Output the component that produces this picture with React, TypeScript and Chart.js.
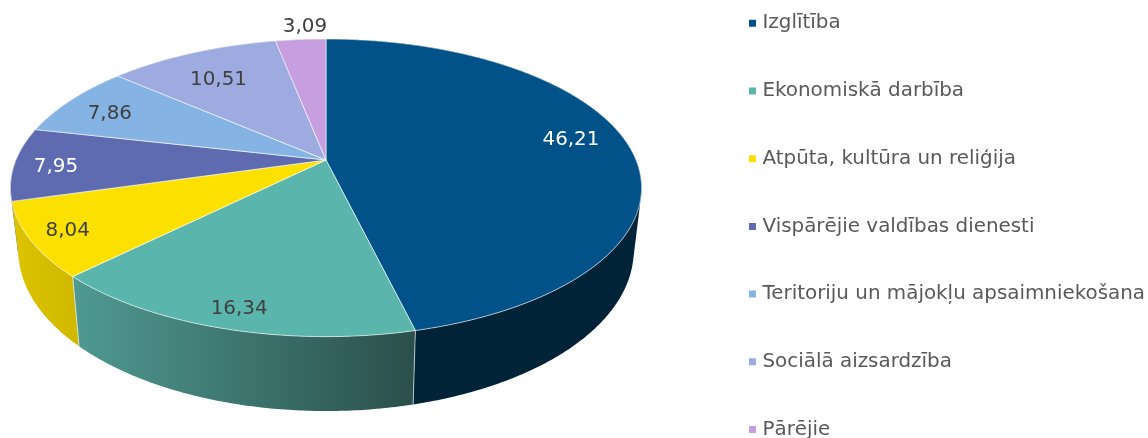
import React, { useEffect, useRef } from "react";
import { Chart, registerables } from "chart.js";

Chart.register(...registerables);

const categories = [
  "Izglītība",
  "Ekonomiskā darbība",
  "Atpūta, kultūra un reliģija",
  "Vispārējie valdības dienesti",
  "Teritoriju un mājokļu apsaimniekošana",
  "Sociālā aizsardzība",
  "Pārējie",
];
const values = [46.21, 16.34, 8.04, 7.95, 7.86, 10.51, 3.09];
const valueLabels = ["46,21", "16,34", "8,04", "7,95", "7,86", "10,51", "3,09"];

const topColors = ["#005288", "#5ab5ac", "#fbe000", "#5e6bb0", "#85b3e3", "#9dabe0", "#c79fe0"];
const wallColors = [
  ["#002338", "#002338"],
  ["#4f9a92", "#2b4f4b"],
  ["#dcc400", "#cfb800"],
  ["#4a548c", "#4a548c"],
  ["#6a8fb5", "#6a8fb5"],
  ["#7d89b3", "#7d89b3"],
  ["#9f7fb3", "#9f7fb3"],
];
const labelColors = ["#ffffff", "#404040", "#404040", "#ffffff", "#404040", "#404040", "#404040"];
const labelReach = [0.8, 0.87, 0.885, 0.874, 0.8, 0.78, 1.13];
const labelNudge = [[3, -7], [0, 6], [0, 1], [2, 3], [-9, 2], [0, 6], [7, 0]];

const FONT = '"DejaVu Sans", Verdana, sans-serif';
const FONT_SIZE = 19.9;
const view = { cx: 326, cy: 160, a: 310, b: 143.6, k: 0.187, s: 0.975, d: 60.5 };
const legendBox = { x: 752.5, firstRow: 23.3, rowStep: 67.7 };

const top3d = (u: number, v: number): [number, number] => {
  const w = 1 - view.k * v;
  return [view.cx + (view.a * u) / w, view.cy + (view.b * v) / w];
};
const low3d = (u: number, v: number): [number, number] => {
  const w = 1 - view.k * v;
  return [view.cx + (view.s * view.a * u) / w, view.cy + (view.b * v + view.d) / w];
};

const arcPoints = (start: number, end: number, fn: (u: number, v: number) => [number, number]) => {
  const n = Math.max(2, Math.ceil((end - start) / 0.01));
  const pts: [number, number][] = [];
  for (let i = 0; i <= n; i++) {
    const t = start + ((end - start) * i) / n;
    pts.push(fn(Math.cos(t), Math.sin(t)));
  }
  return pts;
};

const pie3d = {
  id: "pie3d",
  afterLayout(chart: any) {
    // one tall legend column, as wide-spaced as the original
    const l = chart.legend;
    const pad = legendBox.rowStep - FONT_SIZE;
    const h = legendBox.rowStep * categories.length;
    l.left = legendBox.x - pad;
    l.top = legendBox.firstRow - FONT_SIZE / 2 - pad;
    l.bottom = 100000;
    l.columnSizes = categories.map(() => ({ width: 400, height: h }));
  },
  beforeDatasetDraw(chart: any) {
    const ctx = chart.ctx as CanvasRenderingContext2D;
    const arcs = chart.getDatasetMeta(0).data as any[];
    const edge = "rgba(255,255,255,0.6)";

    // walls, back to front
    const order = arcs
      .map((arc, i) => ({ arc, i, depth: Math.sin((arc.startAngle + arc.endAngle) / 2) }))
      .sort((p, q) => p.depth - q.depth);
    order.forEach(({ arc, i }) => {
      const topPts = arcPoints(arc.startAngle, arc.endAngle, top3d);
      const lowPts = arcPoints(arc.startAngle, arc.endAngle, low3d);
      const xs = [...topPts, ...lowPts].map((p) => p[0]);
      const g = ctx.createLinearGradient(Math.min(...xs), 0, Math.max(...xs), 0);
      g.addColorStop(0, wallColors[i][0]);
      g.addColorStop(1, wallColors[i][1]);
      ctx.beginPath();
      for (let j = 0; j < topPts.length - 1; j++) {
        const quad = [topPts[j], topPts[j + 1], lowPts[j + 1], lowPts[j]];
        let area = 0;
        quad.forEach((p, n) => {
          const q = quad[(n + 1) % 4];
          area += p[0] * q[1] - q[0] * p[1];
        });
        if (area < 0) quad.reverse();
        quad.forEach((p, n) => (n ? ctx.lineTo(p[0], p[1]) : ctx.moveTo(p[0], p[1])));
        ctx.closePath();
      }
      ctx.fillStyle = g;
      ctx.fill("nonzero");
    });

    // seams between front walls
    ctx.lineWidth = 1;
    ctx.strokeStyle = edge;
    arcs.forEach((arc) => {
      const u = Math.cos(arc.endAngle);
      const v = Math.sin(arc.endAngle);
      if (v > 0.3) {
        const p = top3d(u, v);
        const q = low3d(u, v);
        ctx.beginPath();
        ctx.moveTo(p[0], p[1]);
        ctx.lineTo(q[0], q[1]);
        ctx.stroke();
      }
    });

    // top face
    arcs.forEach((arc, i) => {
      const pts = arcPoints(arc.startAngle, arc.endAngle, top3d);
      const c = top3d(0, 0);
      ctx.beginPath();
      ctx.moveTo(c[0], c[1]);
      pts.forEach((p) => ctx.lineTo(p[0], p[1]));
      ctx.closePath();
      ctx.fillStyle = topColors[i];
      ctx.fill();
      ctx.strokeStyle = edge;
      ctx.lineWidth = 1;
      ctx.stroke();
    });

    // value labels
    ctx.font = `${FONT_SIZE}px ${FONT}`;
    ctx.textAlign = "center";
    ctx.textBaseline = "middle";
    arcs.forEach((arc, i) => {
      const mid = (arc.startAngle + arc.endAngle) / 2;
      const r = labelReach[i];
      const p = top3d(r * Math.cos(mid), r * Math.sin(mid));
      ctx.fillStyle = labelColors[i];
      ctx.fillText(valueLabels[i], p[0] + labelNudge[i][0], p[1] + labelNudge[i][1]);
    });
    return false;
  },
};

export default function App() {
  const ref = useRef<HTMLCanvasElement>(null);
  useEffect(() => {
    const chart = new Chart(ref.current as HTMLCanvasElement, {
      type: "pie",
      data: {
        labels: categories,
        datasets: [{ data: values, backgroundColor: topColors, borderWidth: 0 }],
      },
      options: {
        animation: false,
        responsive: false,
        plugins: {
          tooltip: { enabled: false },
          legend: {
            position: "right",
            align: "start",
            labels: {
              usePointStyle: true,
              pointStyle: "rect",
              boxWidth: 0.01,
              boxHeight: 7,
              padding: legendBox.rowStep - FONT_SIZE,
              color: "#595959",
              font: { family: FONT, size: FONT_SIZE, lineHeight: 1 },
            },
          },
        },
      },
      plugins: [pie3d],
    } as any);
    return () => chart.destroy();
  }, []);
  return (
    <div style={{ position: "fixed", left: 0, top: 0 }}>
      <canvas ref={ref} width={1148} height={438} style={{ display: "block" }} />
    </div>
  );
}
